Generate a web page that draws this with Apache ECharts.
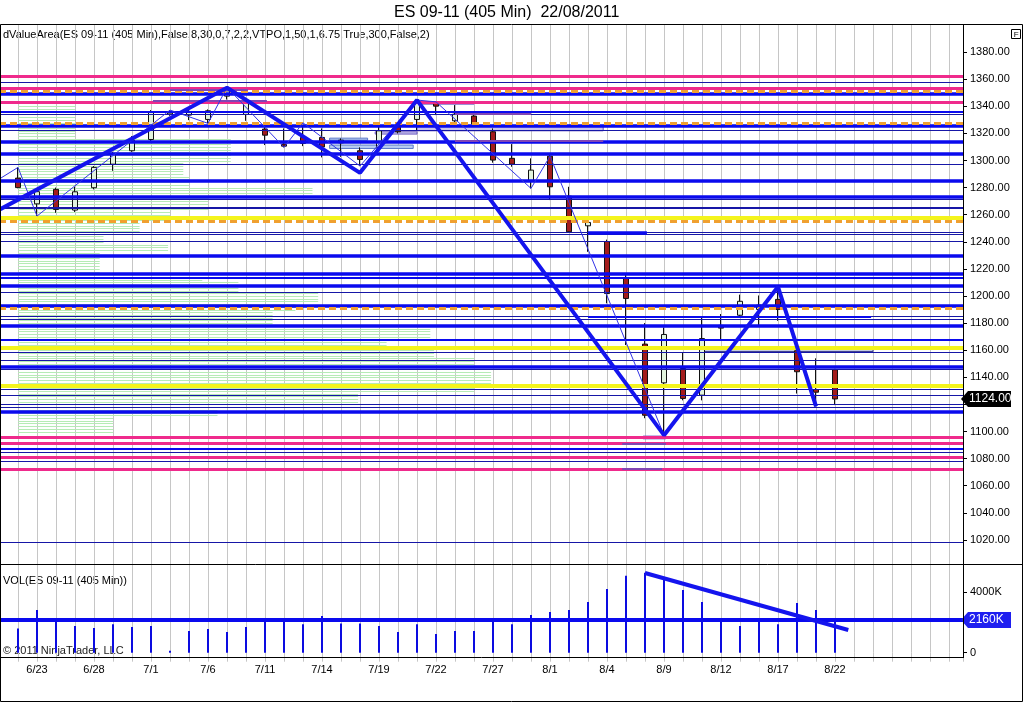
<!DOCTYPE html>
<html><head><meta charset="utf-8">
<script src="https://cdn.jsdelivr.net/npm/echarts/dist/echarts.min.js"></script>
<style>html,body{margin:0;padding:0;background:#fff}#c{width:1024px;height:703px}</style>
</head><body><div id="c"></div>
<script>
// ---------- data ----------
const dates = ['6/22','6/23','6/24','6/27','6/28','6/29','6/30','7/1','7/4','7/5','7/6','7/7','7/8','7/11','7/12','7/13','7/14','7/15','7/18','7/19','7/20','7/21','7/22','7/25','7/26','7/27','7/28','7/29','8/1','8/2','8/3','8/4','8/5','8/8','8/9','8/10','8/11','8/12','8/15','8/16','8/17','8/18','8/19','8/22'];
const opens  = [1287,1268,1278.7,1263.4,1279.9,1297.3,1307.2,1315.5,1334,1333.5,1330.3,1347.5,1334,1323.2,1312.1,1317,1317,1313,1307.2,1309.7,1325.4,1330.3,1342.6,1329.3,1332.8,1321.2,1301.6,1285,1303.2,1273.7,1251.8,1240.2,1213,1164.5,1135.9,1146.5,1126.8,1178.3,1185.8,1190.1,1197.5,1159.6,1131,1145.6];
const closes = [1280,1277,1263.9,1276.9,1294.9,1304.7,1315,1335.9,1335,1335.9,1336.7,1351.4,1342.1,1318.7,1310.6,1312.6,1310,1315,1300.8,1321.9,1321.2,1342.6,1340.1,1334.2,1326.9,1300.3,1297.3,1292.9,1280.6,1247.4,1254.3,1201.8,1198.2,1112,1171.6,1124.4,1168.6,1176.3,1196.1,1193.3,1190.1,1144.1,1129,1124];
const lows   = [1279.5,1259,1261.4,1262,1278.7,1292.4,1306.4,1313.8,1333,1329.8,1327.4,1345,1329.3,1311.4,1309.7,1310.6,1302.3,1302.7,1295.9,1307.7,1320,1322.4,1333.5,1327.8,1324.9,1298.4,1295.4,1279.4,1270.8,1246.7,1232.6,1194.6,1163.8,1109.8,1097.3,1123,1123,1168,1184.2,1177.8,1181.7,1128,1118.5,1119.5];
const highs  = [1295,1278.7,1280,1280.6,1295.9,1306.4,1318,1337.2,1337.2,1337.7,1337.7,1354,1345,1327.4,1323.7,1327.8,1323.7,1316.3,1309.7,1324.9,1327.4,1344.6,1343.3,1340.9,1334.2,1323.7,1312.1,1301.6,1304,1280.6,1258.4,1241.6,1216.5,1180,1176.8,1158,1184.6,1186.7,1201,1200.4,1206.8,1163,1154,1146.3];
const volumeK = [1610,2830,2100,1770,1630,1880,1700,1770,130,1430,1570,1370,1700,2100,2160,1880,2430,1940,1940,1770,1370,1880,1240,1430,1430,2300,1880,2490,2690,2830,3360,4220,5100,5300,4880,4150,3360,2160,1770,2160,1880,3290,2830,2230];

const zigzagMajor = [[-0.93,1264.1],[11,1353.7],[18,1290.9],[21,1344.6],[34,1097.3],[40,1206.8],[42,1118.5]];
const zigzagMinor = [[-0.93,1286.8],[0,1294.9],[1,1259],[8,1337.2],[10,1327.4],[11,1354],[14,1309.7],[15,1327.8],[18,1295.9],[21,1344.6],[22,1343.3],[27,1279.4],[28,1303.2],[34,1097.3],[40,1206.8],[42,1118.5]];
const volTrend = [[33,5280],[43.7,1500]];

const pinkLevels = [1362,1353.2,1343,1095.6,1091.2,1081.3,1072];
const orangeLevels = [1351.4,1327.4,1255.5,1190.6];
const yellowLevels = [1257.7,1162.1,1134];
const blueThickLevels = [1349,1325.9,1314,1305.2,1285.3,1273.5,1230,1216.2,1207.3,1192.5,1177.8,1147.8,1114.3];
const blueMidLevels = [1335.7,1213.7,1168,1087.2];
const blueThinLevels = [1358,1334.3,1322,1297.3,1271.7,1265.6,1264.4,1247.2,1245.7,1240.7,1202.9,1184.8,1183.2,1158.6,1152.7,1145.8,1131.5,1126.6,1120.2,1118.2,1084.8,1077.9,1018];
const bluePartial = [[30,33.1,1246.9,3.5],[30,44.9,1184.8,2]];
const purpleLines = [[31.8,34.1,1091.2],[31.8,33.9,1072.8],[8,12.1,1352.5],[7.1,13.1,1344],[23,27,1334.8],[23,30.8,1314.5]];
const lavenderBoxes = [[32.9,34.1,1094.6,1096.6],[21,24,1341.6,1343.3],[21,30.8,1321.9,1325.4],[18.8,21,1319.5,1321.2]];
const lightBlueBoxes = [[16.4,20.8,1308.9,1311.4],[16.4,18.4,1315,1316.5]];
const greyBoxes = [[36,45,1159,1161.5]];
const beigeBoxes = [[42,43.4,1132.6,1134.5]];

const profile = [
[1100,5],[1102,5],[1104,5],[1106,5],[1108,5],[1110,5],[1112,10.5],[1114,10.5],[1116,10.5],[1118,14],
[1120,17.9],[1122,17.9],[1124,17.9],[1126,17.9],[1128,17.9],[1130,24],[1132,24],[1134,24],[1136,24.9],[1138,24.9],
[1140,24.9],[1142,24.9],[1144,24.9],[1146,24.9],[1148,24],[1150,24],[1152,24],[1154,24],[1156,21.9],[1158,21.9],
[1160,21.9],[1162,19.4],[1164,19.4],[1166,19.4],[1168,21.7],[1170,21.7],[1172,21.7],[1174,21.7],[1176,21.7],[1178,13.4],
[1180,13.4],[1182,13.4],[1184,13.4],[1186,13.4],[1188,13.4],[1190,14.6],[1192,14.6],[1194,14.6],[1196,15.8],[1198,15.8],
[1200,15.8],[1202,15.8],[1204,11.6],[1206,11.6],[1208,11.6],[1210,11.6],[1212,9.7],[1214,9.7],[1216,9.7],[1218,4.3],
[1220,4.3],[1222,4.3],[1224,4.3],[1226,4.3],[1228,4.3],[1230,4.3],[1232,4.3],[1234,7.9],[1236,7.9],[1238,7.9],
[1240,4.5],[1242,4.5],[1244,4.5],[1246,4.5],[1248,6.4],[1250,6.4],[1252,6.4],[1254,6.4],[1256,8],[1258,8],
[1260,8],[1262,8],[1264,10],[1266,10],[1268,10],[1270,10],[1272,10],[1274,15.5],[1276,15.5],[1278,15.5],
[1280,15.5],[1282,9],[1284,9],[1286,9],[1288,9],[1290,8.7],[1292,8.7],[1294,8.7],[1296,8.7],[1298,8.7],
[1300,11.2],[1302,11.2],[1304,11.2],[1306,11.2],[1308,11.2],[1310,11.2],[1312,11.2],[1314,11.2],[1316,11.2],[1318,3],
[1320,3],[1322,3],[1324,3],[1326,3],[1328,3],[1330,3],[1332,3],[1334,3],[1336,3],[1338,3],[1340,3]
];
const lastPrice = 1124;
const avgVolK = 2160;
const titleText = 'ES 09-11 (405 Min)  22/08/2011';
const indicatorText = 'dValueArea(ES 09-11 (405 Min),False,8,30,0,7,2,2,VTPO,1,50,1,6.75,True,300,False,2)';
const volText = 'VOL(ES 09-11 (405 Min))';
const copyText = '\u00A9 2011 NinjaTrader, LLC';

// ---------- styles ----------
const FONT = "'Liberation Sans', Arial, sans-serif";
const BLUE = '#0a0aee', BLUE_THIN = '#1616a6', PINK = '#ef2a8c', ORANGE = '#f0a030', YELLOW = '#f4f41c', GRID = '#c6c6c6';

const levelLines = [];
pinkLevels.forEach(p => levelLines.push({yAxis:p, lineStyle:{color:PINK,width:3,type:'solid'}}));
yellowLevels.forEach(p => levelLines.push({yAxis:p, lineStyle:{color:YELLOW,width:4,type:'solid'}}));
blueThickLevels.forEach(p => levelLines.push({yAxis:p, lineStyle:{color:BLUE,width:3.5,type:'solid'}}));
blueMidLevels.forEach(p => levelLines.push({yAxis:p, lineStyle:{color:BLUE,width:2,type:'solid'}}));
blueThinLevels.forEach(p => levelLines.push({yAxis:p, lineStyle:{color:BLUE_THIN,width:1,type:'solid'}}));
orangeLevels.forEach(p => levelLines.push({yAxis:p, lineStyle:{color:ORANGE,width:3,type:[7,4]}}));
bluePartial.forEach(s => levelLines.push([{coord:[s[0],s[2]], lineStyle:{color:BLUE,width:s[3],type:'solid'}},{coord:[s[1],s[2]]}]));
purpleLines.forEach(s => levelLines.push([{coord:[s[0],s[2]], lineStyle:{color:'#8046b4',width:2,type:'solid'}},{coord:[s[1],s[2]]}]));

const areas = [];
const pushBoxes = (arr, fill, border) => arr.forEach(b => areas.push([{coord:[b[0],b[2]], itemStyle:{color:fill,borderColor:border,borderWidth:1}},{coord:[b[1],b[3]]}]));
pushBoxes(lavenderBoxes,'#c9c4ee','#6a58c0');
pushBoxes(lightBlueBoxes,'#b8cdf2','#5a78c8');
pushBoxes(greyBoxes,'#c4cce0','#3a3a8a');
pushBoxes(beigeBoxes,'#dcd4b8','#7a6a48');

const XMIN = -1, XMAX = -1 + 964/19;

// value-marker tag (box with a left-pointing tip) drawn at the y of a value through the axis scale
function tagSeries(xAxisIndex, yAxisIndex, value, text, bg) {
  return {type:'custom', xAxisIndex, yAxisIndex, z:9, silent:true, data:[[XMAX, value]],
    renderItem:(params, api)=>{
      const pt = api.coord([api.value(0), api.value(1)]);
      const x0 = pt[0] - 2, y = pt[1], h = 16, w = 50;
      return {type:'group', children:[
        {type:'polygon', shape:{points:[[x0,y],[x0+7,y-h/2],[x0+w,y-h/2],[x0+w,y+h/2],[x0+7,y+h/2]]},
         style:{fill:bg}},
        {type:'text', x:x0+8, y:y, style:{text:text, fill:'#fff', font:'12px '+FONT, textVerticalAlign:'middle', verticalAlign:'middle'}}
      ]};
    }};
}

const chart = echarts.init(document.getElementById('c'), null, {renderer:'canvas'});
chart.setOption({
  animation:false,
  backgroundColor:'#fff',
  textStyle:{fontFamily:FONT},
  grid:[
    {left:-1, top:25, width:964, height:542, containLabel:false, outerBoundsMode:'none'},
    {left:-1, top:564, width:964, height:88.7, containLabel:false, outerBoundsMode:'none'}
  ],
  xAxis:[
    {gridIndex:0, type:'value', min:XMIN, max:XMAX, interval:1,
     axisLabel:{show:true, formatter:()=>''}, axisTick:{show:false}, axisLine:{show:false, onZero:false},
     splitLine:{show:true, lineStyle:{color:GRID,width:1}}},
    {gridIndex:1, type:'value', min:XMIN, max:XMAX, interval:1,
     axisLine:{show:false, onZero:false}, axisTick:{show:true, length:9, lineStyle:{color:GRID}},
     splitLine:{show:true, lineStyle:{color:GRID,width:1}},
     axisLabel:{show:true, margin:12, fontSize:11, color:'#000', fontFamily:FONT,
       formatter:v=>{const i=Math.round(v); return (i>=1 && i<dates.length && (i-1)%3===0)?dates[i]:'';}}}
  ],
  yAxis:[
    {gridIndex:0, type:'value', position:'right', min:1000, max:1400, interval:20,
     axisLine:{show:false, onZero:false}, axisTick:{show:true, length:4, lineStyle:{color:'#000'}},
     splitLine:{show:false}, axisLabel:{margin:7, fontSize:11, color:'#000', fontFamily:FONT,
       showMinLabel:false, showMaxLabel:false, formatter:v=>v.toFixed(2)}},
    {gridIndex:1, type:'value', position:'right', min:0, max:5874, interval:4000,
     axisLine:{show:false, onZero:false}, axisTick:{show:true, length:4, lineStyle:{color:'#000'}},
     splitLine:{show:false}, axisLabel:{margin:7, fontSize:11, color:'#000', fontFamily:FONT,
       showMaxLabel:false, formatter:v=>v===0?'0':v+'K'}}
  ],
  series:[
    {type:'custom', name:'profile', xAxisIndex:0, yAxisIndex:0, z:1, silent:true,
     data:profile, encode:{x:1,y:0},
     renderItem:(params, api)=>{
       const p=api.value(0), len=api.value(1);
       const a=api.coord([0,p]), b=api.coord([len,p]);
       const y=Math.round(a[1])+0.5;
       return {type:'line', shape:{x1:a[0],y1:y,x2:b[0],y2:y}, style:{stroke:'#b6ebb6',lineWidth:1}};
     }},
    {type:'line', name:'levels', xAxisIndex:0, yAxisIndex:0, z:2, data:[], silent:true,
     markLine:{symbol:'none', silent:true, animation:false, label:{show:false}, data:levelLines},
     markArea:{silent:true, data:areas}},
    {type:'candlestick', name:'ES', xAxisIndex:0, yAxisIndex:0, z:4, barWidth:5,
     data:dates.map((d,i)=>[i,opens[i],closes[i],lows[i],highs[i]]),
     encode:{x:0, y:[1,2,3,4]},
     itemStyle:{color:'#e2f4de', color0:'#a31c1c', borderColor:'#111', borderColor0:'#111', borderWidth:1}},
    {type:'line', name:'zigzagMinor', xAxisIndex:0, yAxisIndex:0, z:5, data:zigzagMinor,
     showSymbol:false, lineStyle:{color:'#3232e6', width:1}},
    {type:'line', name:'zigzagMajor', xAxisIndex:0, yAxisIndex:0, z:6, data:zigzagMajor,
     showSymbol:false, lineStyle:{color:'#1414ee', width:4}},
    {type:'bar', name:'vol', xAxisIndex:1, yAxisIndex:1, z:3, barWidth:2,
     data:volumeK.map((v,i)=>[i,v]), itemStyle:{color:'#0c0ce0'},
     markLine:{symbol:'none', silent:true, animation:false, label:{show:false},
       data:[{yAxis:avgVolK, lineStyle:{color:BLUE,width:4,type:'solid'}}]}},
    {type:'line', name:'volTrend', xAxisIndex:1, yAxisIndex:1, z:6, data:volTrend,
     showSymbol:false, lineStyle:{color:'#1414ee', width:4}},
    tagSeries(0, 0, lastPrice, lastPrice.toFixed(2), '#000'),
    tagSeries(1, 1, avgVolK, avgVolK+'K', '#1e1ef0')
  ],
  graphic:[
    {type:'text', left:394, top:5, style:{text:titleText, font:'16px '+FONT, fill:'#000'}},
    {type:'text', left:3, top:29, style:{text:indicatorText, font:'11px '+FONT, fill:'#000'}},
    {type:'text', left:3, top:575, style:{text:volText, font:'11px '+FONT, fill:'#000'}},
    {type:'text', left:3, top:645, style:{text:copyText, font:'11px '+FONT, fill:'#222'}},
    {type:'group', left:1011, top:29, children:[
      {type:'rect', shape:{x:0,y:0,width:9,height:9}, style:{fill:'#fff', stroke:'#000', lineWidth:1}},
      {type:'text', x:2.3, y:1, style:{text:'F', font:'8px '+FONT, fill:'#000'}}]},
    {type:'rect', shape:{x:0.5,y:24.5,width:1022,height:677}, style:{fill:'none', stroke:'#000', lineWidth:1}, silent:true, z:10},
    {type:'line', shape:{x1:0,y1:564.5,x2:1023,y2:564.5}, style:{stroke:'#000', lineWidth:1}, z:10},
    {type:'line', shape:{x1:0,y1:657.5,x2:963,y2:657.5}, style:{stroke:'#000', lineWidth:1}, z:10},
    {type:'line', shape:{x1:963.5,y1:24,x2:963.5,y2:658}, style:{stroke:'#000', lineWidth:1}, z:10}
  ]
});
</script></body></html>
